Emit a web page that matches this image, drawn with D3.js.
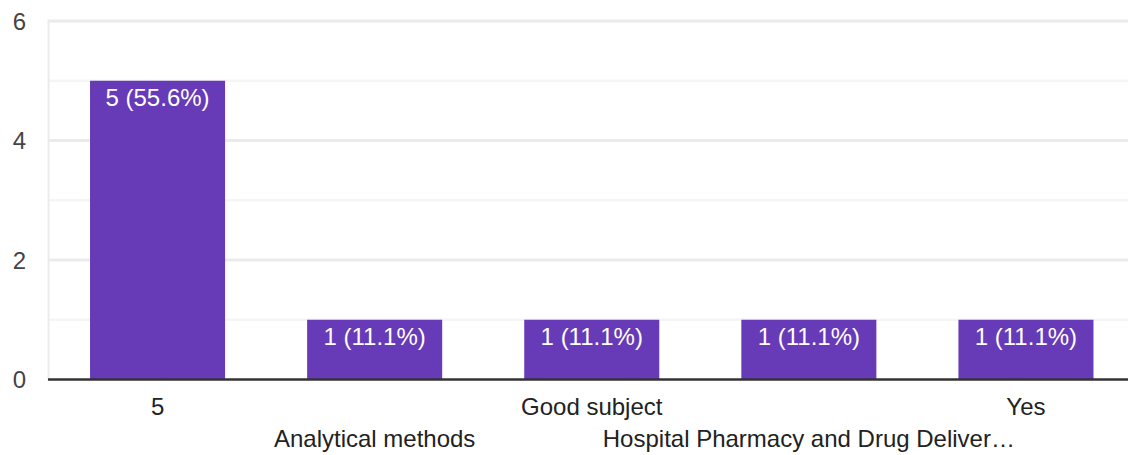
<!DOCTYPE html>
<html>
<head>
<meta charset="utf-8">
<script src="https://cdn.jsdelivr.net/npm/d3@7"></script>
<style>
  html, body { margin: 0; padding: 0; background: #fff; }
  svg text { font-family: Arial, "Liberation Sans", sans-serif; }
</style>
</head>
<body>
<svg id="chart" width="1128" height="455"></svg>
<script>
const categories = ["5", "Analytical methods", "Good subject", "Hospital Pharmacy and Drug Deliver…", "Yes"];
const counts = [5, 1, 1, 1, 1];
const valueLabels = ["5 (55.6%)", "1 (11.1%)", "1 (11.1%)", "1 (11.1%)", "1 (11.1%)"];
const yTicks = [0, 2, 4, 6];
const gridValues = [0, 1, 2, 3, 4, 5, 6];

const svg = d3.select("#chart");
const W = 1128, H = 455;
const pLeft = 49, pRight = 1134.5, pTop = 21, pBottom = 379.5;
const fs = 24;

const x = d3.scaleBand().domain(categories).range([pLeft, pRight]).paddingInner(0.378).paddingOuter(0.189);
const y = d3.scaleLinear().domain([0, 6]).range([pBottom, pTop]);

// gridlines
svg.append("g").selectAll("line").data(gridValues.filter(v => v > 0)).join("line")
  .attr("x1", pLeft - 1).attr("x2", W)
  .attr("y1", d => y(d)).attr("y2", d => y(d))
  .attr("stroke", d => d % 2 === 0 ? "#ebebeb" : "#f5f5f5")
  .attr("stroke-width", d => d % 2 === 0 ? 3 : 2.5);

// left vertical line
svg.append("line").attr("x1", pLeft - 0.5).attr("x2", pLeft - 0.5)
  .attr("y1", y(6) - 1.5).attr("y2", y(0))
  .attr("stroke", "#ebebeb").attr("stroke-width", 2);

// bars
svg.append("g").selectAll("rect").data(counts).join("rect")
  .attr("x", (d, i) => x(categories[i]))
  .attr("width", x.bandwidth())
  .attr("y", d => y(d))
  .attr("height", d => y(0) - y(d))
  .attr("fill", "#673ab7");

// value labels
svg.append("g").selectAll("text").data(counts).join("text")
  .attr("x", (d, i) => x(categories[i]) + x.bandwidth() / 2)
  .attr("y", d => y(d) + 25.5)
  .attr("text-anchor", "middle")
  .attr("fill", "#ffffff")
  .attr("font-size", fs)
  .text((d, i) => valueLabels[i]);

// baseline
svg.append("line").attr("x1", pLeft - 1).attr("x2", W)
  .attr("y1", y(0)).attr("y2", y(0))
  .attr("stroke", "#333333").attr("stroke-width", 2.5);

// y axis labels
const yAxis = d3.axisLeft(y).tickValues(yTicks).tickSize(0).tickPadding(0).tickFormat(d3.format("d"));
const ya = svg.append("g").attr("transform", `translate(26,0)`).call(yAxis);
ya.select(".domain").remove();
ya.selectAll("text").attr("font-size", fs).attr("fill", "#444444")
  .attr("font-family", "Arial, 'Liberation Sans', sans-serif").attr("dy", "0.35em");

// x axis labels (staggered)
const xAxis = d3.axisBottom(x).tickSize(0).tickPadding(0);
const xa = svg.append("g").call(xAxis);
xa.select(".domain").remove();
xa.selectAll("text")
  .attr("font-size", fs).attr("fill", "#222222")
  .attr("font-family", "Arial, 'Liberation Sans', sans-serif")
  .attr("dy", null)
  .attr("y", (d, i) => i % 2 === 0 ? 415 : 447);
</script>
</body>
</html>
